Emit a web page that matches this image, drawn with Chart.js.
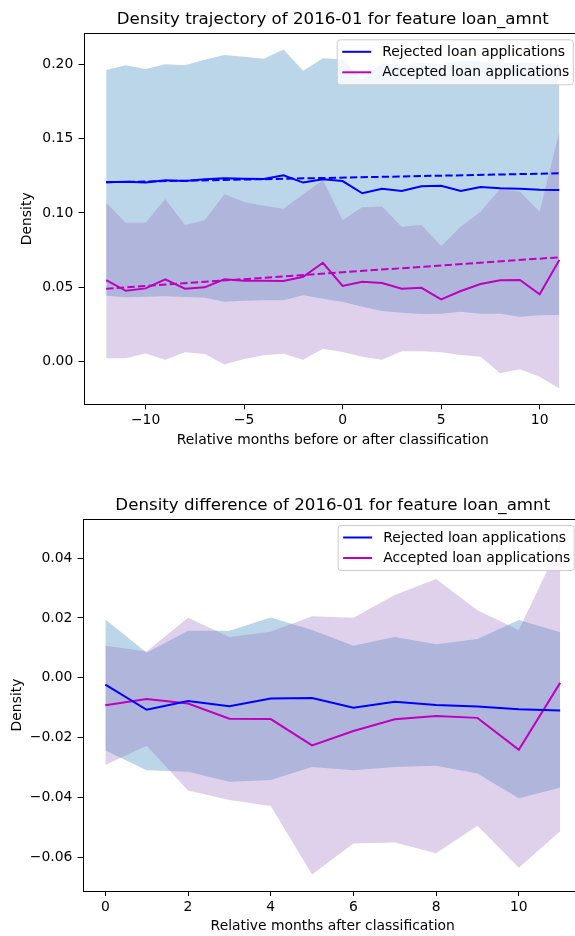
<!DOCTYPE html>
<html>
<head>
<meta charset="utf-8">
<script src="https://cdn.jsdelivr.net/npm/chart.js@4.4.0/dist/chart.umd.min.js"></script>
<style>
  html, body { margin: 0; padding: 0; background: #fff; }
  body { width: 575px; height: 936px; overflow: hidden; position: relative; }
  canvas { position: absolute; left: 0; }
</style>
</head>
<body>
<canvas id="trajectory" width="600" height="470" style="top:0px"></canvas>
<canvas id="difference" width="600" height="466" style="top:470px"></canvas>
<script>
// ---- Density trajectory (months -12 .. 11) ----
const trajMonths = [-12, -11, -10, -9, -8, -7, -6, -5, -4, -3, -2, -1, 0, 1, 2, 3, 4, 5, 6, 7, 8, 9, 10, 11];
const trajRejectedMean  = [0.1206, 0.1210, 0.1204, 0.1220, 0.1215, 0.1226, 0.1233, 0.1230, 0.1228, 0.1253, 0.1204, 0.1226,
                           0.1214, 0.1132, 0.1163, 0.1147, 0.1179, 0.1183, 0.1147, 0.1174, 0.1165, 0.1163, 0.1156, 0.1154];
const trajRejectedUpper = [0.1960, 0.1992, 0.1967, 0.1999, 0.1992, 0.2030, 0.2061, 0.2050, 0.2036, 0.2099, 0.1956, 0.2039,
                           0.2032, 0.1900, 0.2005, 0.1994, 0.2010, 0.1999, 0.2023, 0.2016, 0.2005, 0.2010, 0.2005, 0.1999];
const trajRejectedLower = [0.0444, 0.0433, 0.0437, 0.0440, 0.0435, 0.0430, 0.0403, 0.0410, 0.0414, 0.0414, 0.0446, 0.0423,
                           0.0403, 0.0370, 0.0341, 0.0330, 0.0320, 0.0322, 0.0336, 0.0322, 0.0322, 0.0302, 0.0312, 0.0314];
const trajAcceptedMean  = [0.0549, 0.0477, 0.0493, 0.0554, 0.0491, 0.0500, 0.0554, 0.0544, 0.0544, 0.0542, 0.0571, 0.0665,
                           0.0509, 0.0538, 0.0529, 0.0491, 0.0497, 0.0419, 0.0475, 0.0522, 0.0547, 0.0549, 0.0453, 0.0683];
const trajAcceptedUpper = [0.1069, 0.0934, 0.0934, 0.1093, 0.0919, 0.0950, 0.1125, 0.1073, 0.1048, 0.1028, 0.1125, 0.1221,
                           0.0952, 0.1038, 0.1043, 0.0907, 0.0919, 0.0778, 0.0907, 0.1008, 0.1163, 0.1143, 0.1008, 0.1546];
const trajAcceptedLower = [0.0023, 0.0023, 0.0056, 0.0013, 0.0063, 0.0052, -0.0018, 0.0018, 0.0043, 0.0054, 0.0013, 0.0087,
                           0.0065, 0.0034, 0.0013, 0.0070, 0.0070, 0.0063, 0.0045, 0.0034, -0.0078, -0.0051, -0.0101, -0.0179];
// linear trend end points
const trendMonths = [-12, 11];
const trajRejectedTrend = [0.1206, 0.1266];
const trajAcceptedTrend = [0.0491, 0.0702];
const trajXTicks = [-10, -5, 0, 5, 10];
const trajYTicks = [0.00, 0.05, 0.10, 0.15, 0.20];

// ---- Density difference (months 0 .. 11) ----
const diffMonths = [0, 1, 2, 3, 4, 5, 6, 7, 8, 9, 10, 11];
const diffRejectedMean  = [-0.0023, -0.0107, -0.0078, -0.0095, -0.0069, -0.0068, -0.0100, -0.0080, -0.0091, -0.0096, -0.0105, -0.0109];
const diffRejectedUpper = [0.0195, 0.0084, 0.0157, 0.0157, 0.0202, 0.0160, 0.0107, 0.0136, 0.0112, 0.0130, 0.0193, 0.0152];
const diffRejectedLower = [-0.0243, -0.0309, -0.0314, -0.0348, -0.0342, -0.0298, -0.0309, -0.0298, -0.0294, -0.0320, -0.0403, -0.0368];
const diffAcceptedMean  = [-0.0092, -0.0071, -0.0086, -0.0137, -0.0138, -0.0226, -0.0178, -0.0139, -0.0128, -0.0134, -0.0241, -0.0017];
const diffAcceptedUpper = [0.0107, 0.0088, 0.0201, 0.0136, 0.0154, 0.0206, 0.0201, 0.0277, 0.0330, 0.0226, 0.0160, 0.0450];
const diffAcceptedLower = [-0.0292, -0.0227, -0.0377, -0.0409, -0.0429, -0.0658, -0.0554, -0.0551, -0.0587, -0.0495, -0.0635, -0.0513];
const diffXTicks = [0, 2, 4, 6, 8, 10];
const diffYTicks = [-0.06, -0.04, -0.02, 0.00, 0.02, 0.04];

const seriesLabels = ['Rejected loan applications', 'Accepted loan applications'];
const REJ_COLOR = '#0000ff';
const ACC_COLOR = '#bf00bf';
const REJ_BAND = 'rgba(31,119,180,0.3)';
const ACC_BAND = 'rgba(148,103,189,0.3)';
const FONT = 'DejaVu Sans';
const TEXT_SIZE = 13.9;
const TITLE_SIZE = 16.67;

const pts = (xs, ys) => xs.map((x, i) => ({ x, y: ys[i] }));
const minus = s => s.replace('-', '\u2212');

// full box around the plotting area
const axesFrame = {
  id: 'axesFrame',
  afterDatasetsDraw(chart) {
    const { ctx, chartArea: a } = chart;
    ctx.save();
    ctx.strokeStyle = '#000';
    ctx.lineWidth = 1;
    const l = Math.round(a.left) + 0.5, t = Math.round(a.top) + 0.5;
    const r = Math.round(a.right) + 0.5, b = Math.round(a.bottom) + 0.5;
    ctx.strokeRect(l, t, r - l, b - t);
    ctx.restore();
  }
};

// boxed legend in the upper right corner of the plotting area
const boxLegend = {
  id: 'boxLegend',
  afterDraw(chart, args, opts) {
    const { ctx, chartArea: a } = chart;
    const items = chart.data.datasets.filter(d => d.label);
    ctx.save();
    ctx.font = TEXT_SIZE + 'px "' + FONT + '"';
    const tw = Math.max(...items.map(d => ctx.measureText(d.label).width));
    const w = 5 + 29 + 11 + tw + 4;
    const h = 45;
    const right = a.right - opts.inset;
    const left = right - w;
    const top = a.top + opts.offsetTop;
    const rad = 3;
    ctx.beginPath();
    ctx.moveTo(left + rad, top);
    ctx.lineTo(right - rad, top);
    ctx.arcTo(right, top, right, top + rad, rad);
    ctx.lineTo(right, top + h - rad);
    ctx.arcTo(right, top + h, right - rad, top + h, rad);
    ctx.lineTo(left + rad, top + h);
    ctx.arcTo(left, top + h, left, top + h - rad, rad);
    ctx.lineTo(left, top + rad);
    ctx.arcTo(left, top, left + rad, top, rad);
    ctx.closePath();
    ctx.fillStyle = 'rgba(255,255,255,0.8)';
    ctx.fill();
    ctx.strokeStyle = '#cccccc';
    ctx.lineWidth = 1;
    ctx.stroke();
    items.forEach((d, i) => {
      const y = top + 12 + i * 20.5;
      ctx.beginPath();
      ctx.strokeStyle = d.borderColor;
      ctx.lineWidth = 2;
      ctx.moveTo(left + 5, y);
      ctx.lineTo(left + 34, y);
      ctx.stroke();
      ctx.fillStyle = '#000';
      ctx.textBaseline = 'middle';
      ctx.textAlign = 'left';
      ctx.fillText(d.label, left + 45, y + 0.5);
    });
    ctx.restore();
  }
};

function lineSet(label, xs, ys, color, dashed) {
  return {
    label, data: pts(xs, ys), borderColor: color, backgroundColor: color,
    borderWidth: 2, borderDash: dashed ? [7.4, 3.2] : [], pointRadius: 0, tension: 0,
    fill: false, order: 0
  };
}
function bandSets(xs, upper, lower, color, lowerIndex, order) {
  return [
    { data: pts(xs, upper), borderColor: 'rgba(0,0,0,0)', borderWidth: 0, backgroundColor: color,
      pointRadius: 0, tension: 0, fill: { target: lowerIndex }, order },
    { data: pts(xs, lower), borderColor: 'rgba(0,0,0,0)', borderWidth: 0, backgroundColor: color,
      pointRadius: 0, tension: 0, fill: false, order }
  ];
}

function makeChart(id, s) {
  const fontBase = { family: FONT, size: TEXT_SIZE, lineHeight: 1.2 };
  return new Chart(document.getElementById(id), {
    type: 'line',
    data: { datasets: s.datasets },
    options: {
      responsive: false, animation: false, devicePixelRatio: 1,
      layout: { padding: s.padding },
      plugins: {
        legend: { display: false }, tooltip: { enabled: false },
        title: {
          display: true, text: s.title, color: '#000', fullSize: false,
          font: { family: FONT, size: TITLE_SIZE, weight: 'normal', lineHeight: 1.2 },
          padding: s.titlePad
        },
        boxLegend: { inset: 8.7, offsetTop: 6.5 }
      },
      scales: {
        x: {
          type: 'linear', min: s.xMin, max: s.xMax,
          afterFit: sc => { sc.height = 45; },
          afterBuildTicks: sc => { sc.ticks = s.xTicks.map(v => ({ value: v })); },
          border: { display: false },
          grid: { drawOnChartArea: false, drawTicks: true, tickLength: 5, tickColor: '#000', tickWidth: 1 },
          ticks: { color: '#000', font: fontBase, padding: 3.2, maxRotation: 0,
                   callback: v => minus(String(v)) },
          title: { display: true, text: s.xTitle, color: '#000', font: fontBase,
                   padding: { top: 0, bottom: s.xTitlePad } }
        },
        y: {
          type: 'linear', min: s.yMin, max: s.yMax,
          afterFit: sc => { sc.width = s.yWidth; },
          afterBuildTicks: sc => { sc.ticks = s.yTicks.map(v => ({ value: v })); },
          border: { display: false },
          grid: { drawOnChartArea: false, drawTicks: true, tickLength: 5, tickColor: '#000', tickWidth: 1 },
          ticks: { color: '#000', font: fontBase, padding: 5.2,
                   callback: v => minus((Math.abs(v) < 1e-9 ? 0 : v).toFixed(2)) },
          title: { display: true, text: 'Density', color: '#000', font: fontBase,
                   padding: { top: s.yTitlePad, bottom: 0 } }
        }
      }
    },
    plugins: [axesFrame, boxLegend]
  });
}

// dataset indices: 0-3 lines, 4-5 accepted band, 6-7 rejected band
makeChart('trajectory', {
  title: 'Density trajectory of 2016-01 for feature loan_amnt',
  xTitle: 'Relative months before or after classification',
  datasets: [
    lineSet(seriesLabels[0], trajMonths, trajRejectedMean, REJ_COLOR, false),
    lineSet(seriesLabels[1], trajMonths, trajAcceptedMean, ACC_COLOR, false),
    lineSet(undefined, trendMonths, trajRejectedTrend, REJ_COLOR, true),
    lineSet(undefined, trendMonths, trajAcceptedTrend, ACC_COLOR, true),
    ...bandSets(trajMonths, trajAcceptedUpper, trajAcceptedLower, ACC_BAND, 5, 1),
    ...bandSets(trajMonths, trajRejectedUpper, trajRejectedLower, REJ_BAND, 7, 2)
  ],
  padding: { left: 0, right: 18, top: 0, bottom: 20.7 },
  titlePad: { top: 9.5, bottom: 3.8 },
  xMin: -13.15, xMax: 12.15, xTicks: trajXTicks,
  yMin: -0.0286, yMax: 0.2207, yTicks: trajYTicks,
  yWidth: 83.5, yTitlePad: 19.5, xTitlePad: 0.6
});

// dataset indices: 0-1 lines, 2-3 accepted band, 4-5 rejected band
makeChart('difference', {
  title: 'Density difference of 2016-01 for feature loan_amnt',
  xTitle: 'Relative months after classification',
  datasets: [
    lineSet(seriesLabels[0], diffMonths, diffRejectedMean, REJ_COLOR, false),
    lineSet(seriesLabels[1], diffMonths, diffAcceptedMean, ACC_COLOR, false),
    ...bandSets(diffMonths, diffAcceptedUpper, diffAcceptedLower, ACC_BAND, 3, 1),
    ...bandSets(diffMonths, diffRejectedUpper, diffRejectedLower, REJ_BAND, 5, 2)
  ],
  padding: { left: 0, right: 17.1, top: 0, bottom: 0 },
  titlePad: { top: 25.4, bottom: 3.6 },
  xMin: -0.55, xMax: 11.55, xTicks: diffXTicks,
  yMin: -0.0713, yMax: 0.0531, yTicks: diffYTicks,
  yWidth: 82.6, yTitlePad: 9.5, xTitlePad: 1.6
});
</script>
</body>
</html>
